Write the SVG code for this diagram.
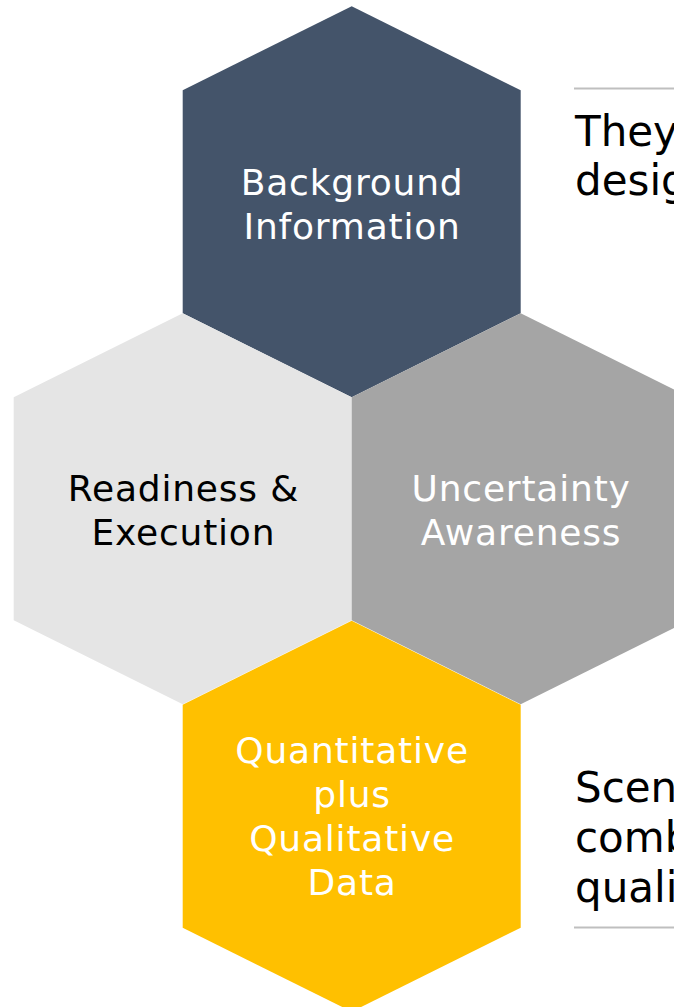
<svg xmlns="http://www.w3.org/2000/svg" width="674" height="1007" viewBox="0 0 674 1007">
  <style>
    .lbl { font-family: "DejaVu Sans", Verdana, sans-serif; font-size: 36px; letter-spacing: 0.8px; text-anchor: middle; }
    .side { font-family: "DejaVu Sans", Verdana, sans-serif; font-size: 42px; fill: #000000; }
    .light { fill: #FFFFFF; }
    .dark { fill: #000000; }
    .rule { stroke: #BFBFBF; stroke-width: 2; }
  </style>
  <defs>
    <!-- pointy-top hexagon, origin at top vertex -->
    <polygon id="hex" points="0,0 169,84 169,307 0,391 -169,307 -169,84"/>
  </defs>

  <g id="connectors"></g>

  <g id="background-information">
    <use href="#hex" x="351.7" y="6.3" fill="#44546A"/>
    <text class="lbl light" x="352.1" y="195">Background</text>
    <text class="lbl light" x="352.1" y="239">Information</text>
  </g>

  <g id="readiness-execution">
    <use href="#hex" x="182.7" y="313.3" fill="#E5E5E5"/>
    <text class="lbl dark" x="183.4" y="501">Readiness &amp;</text>
    <text class="lbl dark" x="183.4" y="545">Execution</text>
  </g>

  <g id="uncertainty-awareness">
    <use href="#hex" x="520.7" y="313.3" fill="#A5A5A5"/>
    <text class="lbl light" x="521.1" y="501">Uncertainty</text>
    <text class="lbl light" x="521.1" y="545">Awareness</text>
  </g>

  <g id="quantitative-qualitative">
    <use href="#hex" x="351.7" y="620.7" fill="#FFC000"/>
    <text class="lbl light" x="352.1" y="763">Quantitative</text>
    <text class="lbl light" x="352.1" y="807">plus</text>
    <text class="lbl light" x="352.1" y="851">Qualitative</text>
    <text class="lbl light" x="352.1" y="895">Data</text>
  </g>

  <g id="note-top">
    <line class="rule" x1="574" y1="88.5" x2="674" y2="88.5"/>
    <text class="side" x="575" y="146">They</text>
    <text class="side" x="575" y="195">design</text>
  </g>

  <g id="note-bottom">
    <text class="side" x="575" y="802">Scenarios</text>
    <text class="side" x="575" y="852">combine</text>
    <text class="side" x="575" y="902">qualitative</text>
    <line class="rule" x1="574" y1="927.5" x2="674" y2="927.5"/>
  </g>
</svg>
